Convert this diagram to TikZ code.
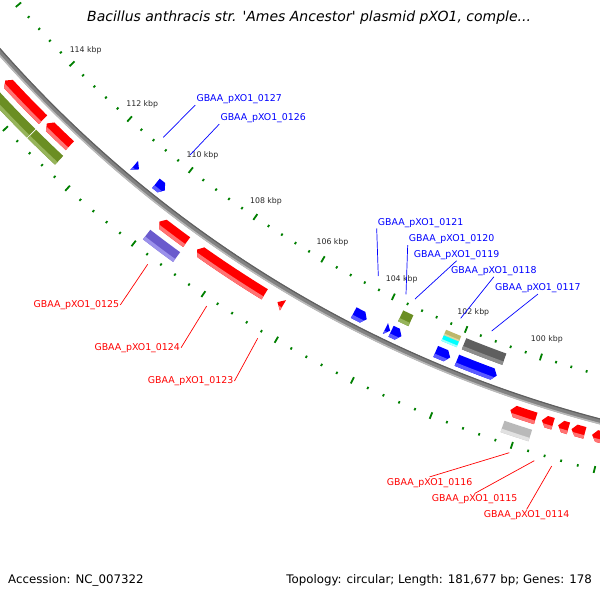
\documentclass[tikz,border=0pt]{standalone}
\usepackage{fontspec}
\setmainfont{DejaVu Sans}
\definecolor{tickgreen}{RGB}{0,128,0}
\definecolor{bbmid}{RGB}{130,130,130}
\definecolor{bbdark}{RGB}{95,95,95}
\definecolor{bblight}{RGB}{185,185,185}
\definecolor{fred}{RGB}{255,0,0}
\definecolor{fredl}{RGB}{255,115,115}
\definecolor{fblue}{RGB}{0,0,255}
\definecolor{fbluel}{RGB}{90,90,255}
\definecolor{folive}{RGB}{107,142,35}
\definecolor{folivel}{RGB}{150,180,90}
\definecolor{fpurple}{RGB}{106,90,205}
\definecolor{fpurplel}{RGB}{155,145,235}
\definecolor{flgray}{RGB}{185,185,185}
\definecolor{flgrayl}{RGB}{225,225,225}
\definecolor{fdgray}{RGB}{95,95,95}
\definecolor{fdgrayl}{RGB}{140,140,140}
\definecolor{fkhaki}{RGB}{189,183,107}
\definecolor{fkhakil}{RGB}{220,215,160}
\definecolor{fcyan}{RGB}{0,255,255}
\definecolor{fcyanl}{RGB}{160,255,255}
\definecolor{kbptext}{RGB}{40,40,40}
\def\FtHd{0.22}
\newcommand\FtShape[1]{%
 \ifcase\FtType\relax
  \fill[#1] ([shift={(C)}]\FtA:\FtRi) arc[start angle=\FtA,end angle=\FtB,radius=\FtRi] -- ([shift={(C)}]\FtB:\FtRo) arc[start angle=\FtB,end angle=\FtA,radius=\FtRo] -- cycle;
 \or
  \fill[#1] ([shift={(C)}]\FtA:\FtRi) arc[start angle=\FtA,end angle=\FtH,radius=\FtRi] -- ([shift={(C)}]\FtB:\FtRm) -- ([shift={(C)}]\FtH:\FtRo) arc[start angle=\FtH,end angle=\FtA,radius=\FtRo] -- cycle;
 \or
  \fill[#1] ([shift={(C)}]\FtA:\FtRm) -- ([shift={(C)}]\FtH:\FtRi) arc[start angle=\FtH,end angle=\FtB,radius=\FtRi] -- ([shift={(C)}]\FtB:\FtRo) arc[start angle=\FtB,end angle=\FtH,radius=\FtRo] -- cycle;
 \or
  \fill[#1] ([shift={(C)}]\FtA:\FtRi) -- ([shift={(C)}]\FtB:\FtRm) -- ([shift={(C)}]\FtA:\FtRo) -- cycle;
 \or
  \fill[#1] ([shift={(C)}]\FtB:\FtRi) -- ([shift={(C)}]\FtA:\FtRm) -- ([shift={(C)}]\FtB:\FtRo) -- cycle;
 \fi}
\newcommand\feat[7]{%
  \def\FtType{#1}%
  \pgfmathsetmacro\FtA{#2}%
  \pgfmathsetmacro\FtB{#3}%
  \pgfmathsetmacro\FtRi{#4}%
  \pgfmathsetmacro\FtRo{#5}%
  \pgfmathsetmacro\FtRm{(#4+#5)/2}%
  \ifnum\FtType=1 \pgfmathsetmacro\FtH{max(#2,#3-\FtHd)}\fi
  \ifnum\FtType=2 \pgfmathsetmacro\FtH{min(#3,#2+\FtHd)}\fi
  \FtShape{#6}%
  \begin{scope}
    \pgfmathsetmacro\FtRl{#5-0.3*(#5-#4)}%
    \pgfmathsetmacro\FtCa{#2-1}%
    \pgfmathsetmacro\FtCb{#3+1}%
    \pgfmathsetmacro\FtRx{#5+2}%
    \clip ([shift={(C)}]\FtCa:\FtRl) arc[start angle=\FtCa,end angle=\FtCb,radius=\FtRl] -- ([shift={(C)}]\FtCb:\FtRx) arc[start angle=\FtCb,end angle=\FtCa,radius=\FtRx] -- cycle;
    \FtShape{#7}%
  \end{scope}}
\tikzset{
  tickmark/.style={draw=tickgreen, line width=1.8pt},
  kbplab/.style={text=kbptext, font=\fontsize{7.8}{9}\selectfont, inner sep=0pt},
  bluelab/.style={text=fblue, font=\fontsize{9.4}{11}\selectfont, inner sep=1pt, anchor=west},
  redlab/.style={text=fred, font=\fontsize{9.4}{11}\selectfont, inner sep=1pt, anchor=west},
  blueline/.style={draw=fblue, line width=0.7pt},
  redline/.style={draw=fred, line width=0.7pt},
  infotext/.style={font=\fontsize{11.8}{14}\selectfont, text=black, inner sep=0pt}
}
\begin{document}
\begin{tikzpicture}[x=1pt,y=-1pt]
\useasboundingbox (0,0) rectangle (600,600);
\fill[white] (0,0) rectangle (600,600);
\coordinate (C) at (905.5,-747.3);
\begin{scope}
\clip (0,0) rectangle (600,600);
% rulers
\foreach \i in {-12,...,44} {
  \pgfmathsetmacro\tkA{108.27+0.786*\i}
  \pgfmathtruncatemacro\tkI{mod(\i+100,5)}
  \ifnum\tkI=0
    \draw[tickmark] ([shift={(C)}]\tkA:1159.5) -- ([shift={(C)}]\tkA:1166.5);
    \draw[tickmark] ([shift={(C)}]\tkA:1252.5) -- ([shift={(C)}]\tkA:1259.5);
  \else
    \draw[tickmark] ([shift={(C)}]\tkA:1162) -- ([shift={(C)}]\tkA:1164.5);
    \draw[tickmark] ([shift={(C)}]\tkA:1255) -- ([shift={(C)}]\tkA:1257.5);
  \fi
}
% backbone
\draw[bbmid, line width=5.5pt] ([shift={(C)}]143:1208) arc[start angle=143,end angle=98,radius=1208];
\draw[bbdark, line width=1.2pt] ([shift={(C)}]143:1205.6) arc[start angle=143,end angle=98,radius=1205.6];
\draw[bblight, line width=1.6pt] ([shift={(C)}]143:1210.2) arc[start angle=143,end angle=98,radius=1210.2];
% outer slot 1 (red)
\feat{1}{134.85}{137.4}{1217}{1229}{fred}{fredl}
\feat{1}{133.1}{134.6}{1217}{1229}{fred}{fredl}
\feat{1}{126.0}{127.6}{1217}{1229}{fred}{fredl}
\feat{1}{121.6}{125.4}{1217}{1229}{fred}{fredl}
\feat{3}{120.6}{120.9}{1217}{1229}{fred}{fredl}
\feat{1}{107.6}{108.85}{1217}{1229}{fred}{fredl}
\feat{1}{106.75}{107.3}{1217}{1229}{fred}{fredl}
\feat{1}{106.0}{106.5}{1217}{1229}{fred}{fredl}
\feat{1}{105.2}{105.85}{1217}{1229}{fred}{fredl}
\feat{1}{103.0}{104.85}{1217}{1229}{fred}{fredl}
% outer slot 2
\feat{0}{134.8}{139.5}{1235}{1247}{folive}{folivel}
\feat{0}{133.0}{134.75}{1235}{1247}{folive}{folivel}
\feat{0}{125.97}{127.7}{1235}{1247}{fpurple}{fpurplel}
\feat{0}{107.6}{108.95}{1235}{1247}{flgray}{flgrayl}
% inner slot 1 (blue)
\feat{4}{129.9}{130.2}{1189}{1201}{fblue}{fbluel}
\feat{2}{128.3}{128.85}{1189}{1201}{fblue}{fbluel}
\feat{2}{116.8}{117.5}{1189}{1201}{fblue}{fbluel}
\feat{4}{115.55}{115.8}{1189}{1201}{fblue}{fbluel}
\feat{2}{114.95}{115.5}{1189}{1201}{fblue}{fbluel}
\feat{2}{112.4}{113.15}{1189}{1201}{fblue}{fbluel}
\feat{2}{110.0}{112.05}{1189}{1201}{fblue}{fbluel}
% inner slot 2
\feat{0}{114.85}{115.4}{1171}{1183}{folive}{folivel}
\feat{0}{112.3}{113.1}{1171}{1177}{fkhaki}{fkhakil}
\feat{0}{112.3}{113.1}{1177}{1183}{fcyan}{fcyanl}
\feat{0}{109.93}{112.03}{1171}{1183}{fdgray}{fdgrayl}
% kbp labels
\foreach \k in {100,102,...,114} {
  \pgfmathsetmacro\tkA{108.27+1.965*(\k-100)}
  \node[kbplab] (kbp\k) at ([shift={(C)}]\tkA:1144) {\k\ kbp};
}
\end{scope}
% gene labels
\node[bluelab] (n127) at (195.3,99.3) {GBAA\_pXO1\_0127};
\node[bluelab] (n126) at (219.3,118.3) {GBAA\_pXO1\_0126};
\node[bluelab] (n121) at (376.7,222.7) {GBAA\_pXO1\_0121};
\node[bluelab] (n120) at (407.7,239.3) {GBAA\_pXO1\_0120};
\node[bluelab] (n119) at (412.7,255) {GBAA\_pXO1\_0119};
\node[bluelab] (n118) at (450,271) {GBAA\_pXO1\_0118};
\node[bluelab] (n117) at (494,288.3) {GBAA\_pXO1\_0117};
\node[redlab] (n125) at (32.5,305) {GBAA\_pXO1\_0125};
\node[redlab] (n124) at (93.3,347.7) {GBAA\_pXO1\_0124};
\node[redlab] (n123) at (146.7,381) {GBAA\_pXO1\_0123};
\node[redlab] (n116) at (385.7,482.7) {GBAA\_pXO1\_0116};
\node[redlab] (n115) at (430.7,499.3) {GBAA\_pXO1\_0115};
\node[redlab] (n114) at (482.7,515.3) {GBAA\_pXO1\_0114};
% leader ends
\coordinate (e127) at (163.3,137.3);
\coordinate (e126) at (190,155);
\coordinate (e121) at (378.3,276);
\coordinate (e120) at (406,294.3);
\coordinate (e119) at (415,299);
\coordinate (e118) at (460.7,318.3);
\coordinate (e117) at (491.7,331);
\coordinate (e125) at (147.7,264.3);
\coordinate (e124) at (206.7,306);
\coordinate (e123) at (257.7,338.3);
\coordinate (e116) at (509.3,452.7);
\coordinate (e115) at (534.3,460.7);
\coordinate (e114) at (551.7,466);
\draw[blueline] (n127.south west) -- (e127);
\draw[blueline] (n126.south west) -- (e126);
\draw[blueline] (n121.south west) -- (e121);
\draw[blueline] (n120.south west) -- (e120);
\draw[blueline] (n119.south) -- (e119);
\draw[blueline] (n118.south) -- (e118);
\draw[blueline] (n117.south) -- (e117);
\draw[redline] (n125.east) -- (e125);
\draw[redline] (n124.east) -- (e124);
\draw[redline] (n123.east) -- (e123);
\draw[redline] (n116.north) -- (e116);
\draw[redline] (n115.north) -- (e115);
\draw[redline] (n114.north) -- (e114);
% title and info
\node[font=\fontsize{14}{16}\selectfont\itshape, inner sep=0pt, anchor=west] (title) at (87,18) {Bacillus anthracis str. \textquotesingle Ames Ancestor\textquotesingle\ plasmid pXO1, comple...};
\node[infotext, anchor=west] (acc) at (8,580) {Accession: NC\_007322};
\node[infotext, anchor=east] (topo) at (592,580) {Topology: circular; Length: 181,677 bp; Genes: 178};
\end{tikzpicture}
\end{document}
